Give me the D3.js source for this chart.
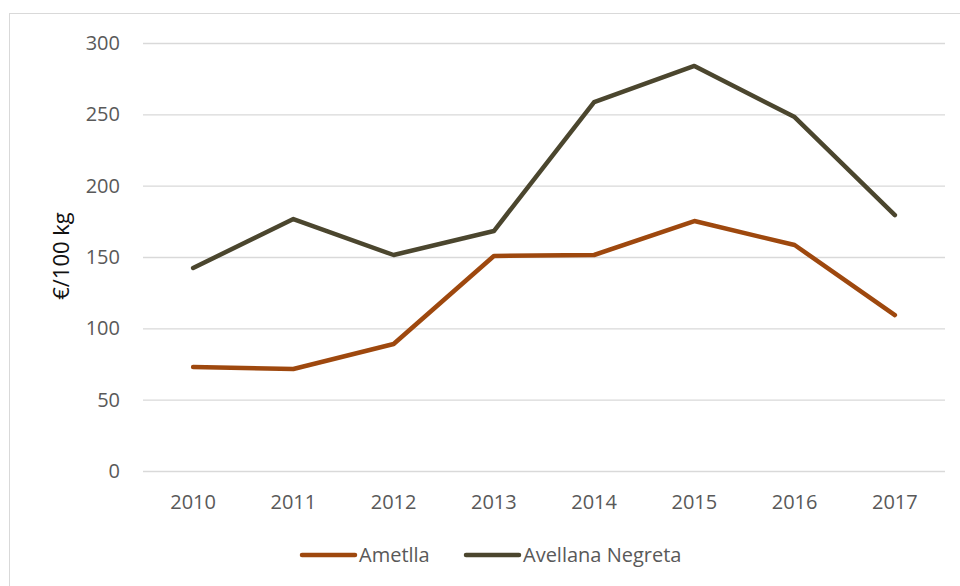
<!DOCTYPE html>
<html><head><meta charset="utf-8">
<script src="https://cdn.jsdelivr.net/npm/d3@7"></script>
<style>body{margin:0;background:#fff}svg{display:block}text{font-family:"Open Sans",Calibri,sans-serif;fill:#595959}</style>
</head><body><svg id="c" width="960" height="586"></svg>
<script>
const years = ["2010","2011","2012","2013","2014","2015","2016","2017"];
const ametlla = [72.9, 71.5, 89, 150.7, 151.4, 175.2, 158.4, 109.3];
const avellana = [142.3, 176.6, 151.4, 168.2, 258.6, 283.9, 248.1, 179.4];
const yTicks = [0, 50, 100, 150, 200, 250, 300];
const seriesNames = ["Ametlla", "Avellana Negreta"];
const seriesColors = ["#9E480E", "#4B462E"];

const svg = d3.select("#c");
svg.append("rect").attr("x",9.5).attr("y",13.5).attr("width",960).attr("height",600)
  .attr("fill","none").attr("stroke","#d9d9d9").attr("stroke-width",1);

const L=143, R=945, T=43, B=471;
const x = d3.scaleBand().domain(years).range([L,R]);
const y = d3.scaleLinear().domain([0,300]).range([B,T]);

const ya = d3.axisLeft(y).tickValues(yTicks).tickSize(-(R-L)).tickPadding(23);
const gy = svg.append("g").attr("transform",`translate(${L},0)`).call(ya);
gy.select(".domain").remove();
gy.selectAll(".tick line").attr("stroke","#d9d9d9").attr("stroke-width",1.3);
gy.selectAll(".tick text").style("font-size","20px").attr("fill","#595959");

const xa = d3.axisBottom(x).tickSize(0).tickPadding(24);
const gx = svg.append("g").attr("transform",`translate(0,${B})`).call(xa);
gx.select(".domain").remove();
gx.selectAll(".tick text").style("font-size","20px").attr("fill","#595959");

svg.append("text").attr("transform",`translate(69,256) rotate(-90)`).attr("text-anchor","middle")
  .style("font-size","22px").style("fill","#111").text("€/100 kg");

const line = d3.line().x((d,i)=>x(years[i])+x.bandwidth()/2).y(d=>y(d));
[ametlla, avellana].forEach((s,k)=>{
  svg.append("path").attr("d",line(s)).attr("fill","none").attr("stroke",seriesColors[k])
    .attr("stroke-width",4.5).attr("stroke-linejoin","round").attr("stroke-linecap","round");
});

const lg = [{x:302, n:0},{x:466, n:1}];
lg.forEach(o=>{
  svg.append("line").attr("x1",o.x).attr("x2",o.x+53).attr("y1",555).attr("y2",555)
    .attr("stroke",seriesColors[o.n]).attr("stroke-width",4.5).attr("stroke-linecap","round");
  svg.append("text").attr("x",o.x+57).attr("y",562).style("font-size","20px").text(seriesNames[o.n]);
});
</script></body></html>
